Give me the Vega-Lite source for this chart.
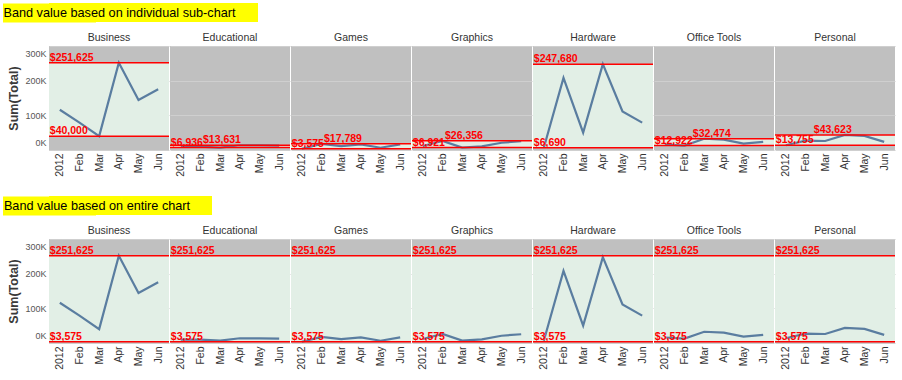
{
  "$schema": "https://vega.github.io/schema/vega-lite/v6.json",
  "padding": {"left": 3, "top": 3, "right": 0, "bottom": 0},
  "background": "white",
  "datasets": {
    "sales": [
      {"category": "Business", "month": "2012", "total": 116000},
      {"category": "Business", "month": "Feb", "total": 79000},
      {"category": "Business", "month": "Mar", "total": 40000},
      {"category": "Business", "month": "Apr", "total": 251625},
      {"category": "Business", "month": "May", "total": 144000},
      {"category": "Business", "month": "Jun", "total": 175000},
      {"category": "Educational", "month": "2012", "total": 9800},
      {"category": "Educational", "month": "Feb", "total": 9500},
      {"category": "Educational", "month": "Mar", "total": 6936},
      {"category": "Educational", "month": "Apr", "total": 13631},
      {"category": "Educational", "month": "May", "total": 13300},
      {"category": "Educational", "month": "Jun", "total": 12400},
      {"category": "Games", "month": "2012", "total": 3575},
      {"category": "Games", "month": "Feb", "total": 17789},
      {"category": "Games", "month": "Mar", "total": 11300},
      {"category": "Games", "month": "Apr", "total": 16000},
      {"category": "Games", "month": "May", "total": 6500},
      {"category": "Games", "month": "Jun", "total": 16200},
      {"category": "Graphics", "month": "2012", "total": 11700},
      {"category": "Graphics", "month": "Feb", "total": 26356},
      {"category": "Graphics", "month": "Mar", "total": 6921},
      {"category": "Graphics", "month": "Apr", "total": 10700},
      {"category": "Graphics", "month": "May", "total": 21000},
      {"category": "Graphics", "month": "Jun", "total": 25300},
      {"category": "Hardware", "month": "2012", "total": 6690},
      {"category": "Hardware", "month": "Feb", "total": 208000},
      {"category": "Hardware", "month": "Mar", "total": 50000},
      {"category": "Hardware", "month": "Apr", "total": 247680},
      {"category": "Hardware", "month": "May", "total": 111000},
      {"category": "Hardware", "month": "Jun", "total": 79000},
      {"category": "Office Tools", "month": "2012", "total": 15800},
      {"category": "Office Tools", "month": "Feb", "total": 12922},
      {"category": "Office Tools", "month": "Mar", "total": 32474},
      {"category": "Office Tools", "month": "Apr", "total": 30000},
      {"category": "Office Tools", "month": "May", "total": 18700},
      {"category": "Office Tools", "month": "Jun", "total": 23500},
      {"category": "Personal", "month": "2012", "total": 13755},
      {"category": "Personal", "month": "Feb", "total": 27000},
      {"category": "Personal", "month": "Mar", "total": 26000},
      {"category": "Personal", "month": "Apr", "total": 43623},
      {"category": "Personal", "month": "May", "total": 40600},
      {"category": "Personal", "month": "Jun", "total": 23400}
    ]
  },
  "spacing": 19,
  "vconcat": [
    {
      "spacing": 11,
      "vconcat": [
        {
          "width": 209, "height": 19,
          "view": {"fill": "#FFFF00", "stroke": null},
          "data": {"values": [{"t": "Band value based on individual sub-chart"}]},
          "mark": {"type": "text", "dx": -34, "fontSize": 12.7, "font": "Liberation Sans", "color": "#000000"},
          "encoding": {
            "text": {"field": "t"},
            "y": {"datum": 0, "type": "quantitative", "scale": {"domain": [-1, 1]}, "axis": {"title": null, "labels": false, "ticks": false, "grid": false, "domainColor": "#FFFF00", "domainWidth": 93}}
          }
        },
        {
          "data": {"name": "sales"},
          "facet": {"column": {"field": "category", "title": null, "sort": ["Business", "Educational", "Games", "Graphics", "Hardware", "Office Tools", "Personal"]}},
          "spacing": 1,
          "bounds": "flush",
          "spec": {
            "width": 120, "height": 104,
            "resolve": {"axis": {"x": "independent"}},
            "layer": [
              {
                "transform": [{"aggregate": [{"op": "min", "field": "total", "as": "lo"}, {"op": "max", "field": "total", "as": "hi"}], "groupby": ["category"]}],
                "mark": {"type": "rect", "color": "#E2EFE6"},
                "encoding": {"y": {"field": "lo", "type": "quantitative", "title": "Sum(Total)"}, "y2": {"field": "hi"}}
              },
              {
                "mark": {"type": "line", "color": "#5A7DA0", "strokeWidth": 2.2},
                "encoding": {
                  "x": {"field": "month", "type": "ordinal", "sort": ["2012", "Feb", "Mar", "Apr", "May", "Jun"], "title": null, "scale": {"padding": 0.55}},
                  "y": {"field": "total", "type": "quantitative", "title": "Sum(Total)", "scale": {"domain": [0, 300000], "nice": false}}
                }
              },
              {
                "transform": [{"aggregate": [{"op": "min", "field": "total", "as": "lo"}, {"op": "max", "field": "total", "as": "hi"}], "groupby": ["category"]}],
                "layer": [
                  {"mark": {"type": "rule", "color": "#FF0000", "strokeWidth": 1.5}, "encoding": {"y": {"field": "lo", "type": "quantitative", "title": "Sum(Total)"}}},
                  {"mark": {"type": "rule", "color": "#FF0000", "strokeWidth": 1.5}, "encoding": {"y": {"field": "hi", "type": "quantitative", "title": "Sum(Total)"}}},
                  {"mark": {"type": "text", "align": "left", "baseline": "bottom", "dx": -10, "fontSize": 10.5, "fontWeight": "bold", "color": "#FF0000"},
                   "encoding": {"x": {"datum": "2012", "type": "ordinal", "title": null, "axis": {"orient": "top", "labels": false, "domain": false, "ticks": true, "tickSize": -4, "tickColor": "#999999"}}, "y": {"field": "lo", "type": "quantitative", "title": "Sum(Total)"}, "text": {"field": "lo", "type": "quantitative", "format": "$,.0f"}}},
                  {"mark": {"type": "text", "align": "left", "baseline": "bottom", "dx": {"expr": "datum.hi - datum.lo < 35000 ? length(format(datum.lo, '$,.0f')) * 5.84 - 12.9 : -10"}, "fontSize": 10.5, "fontWeight": "bold", "color": "#FF0000"},
                   "encoding": {"x": {"datum": "2012", "type": "ordinal", "title": null, "axis": {"orient": "top", "labels": false, "domain": false, "ticks": true, "tickSize": -4, "tickColor": "#999999"}}, "y": {"field": "hi", "type": "quantitative", "title": "Sum(Total)"}, "text": {"field": "hi", "type": "quantitative", "format": "$,.0f"}}}
                ]
              }
            ]
          }
        }
      ]
    },
    {
      "spacing": 11,
      "vconcat": [
        {
          "width": 163, "height": 19,
          "view": {"fill": "#FFFF00", "stroke": null},
          "data": {"values": [{"t": "Band value based on entire chart"}]},
          "mark": {"type": "text", "dx": -33.5, "fontSize": 12.7, "font": "Liberation Sans", "color": "#000000"},
          "encoding": {
            "text": {"field": "t"},
            "y": {"datum": 0, "type": "quantitative", "scale": {"domain": [-1, 1]}, "axis": {"title": null, "labels": false, "ticks": false, "grid": false, "domainColor": "#FFFF00", "domainWidth": 93}}
          }
        },
        {
          "data": {"name": "sales"},
          "transform": [{"joinaggregate": [{"op": "min", "field": "total", "as": "gmin"}, {"op": "max", "field": "total", "as": "gmax"}]}],
          "facet": {"column": {"field": "category", "title": null, "sort": ["Business", "Educational", "Games", "Graphics", "Hardware", "Office Tools", "Personal"]}},
          "spacing": 1,
          "bounds": "flush",
          "spec": {
            "width": 120, "height": 104,
            "resolve": {"axis": {"x": "independent"}},
            "layer": [
              {
                "transform": [{"aggregate": [{"op": "min", "field": "gmin", "as": "lo"}, {"op": "max", "field": "gmax", "as": "hi"}], "groupby": ["category"]}],
                "mark": {"type": "rect", "color": "#E2EFE6"},
                "encoding": {"y": {"field": "lo", "type": "quantitative", "title": "Sum(Total)"}, "y2": {"field": "hi"}}
              },
              {
                "mark": {"type": "line", "color": "#5A7DA0", "strokeWidth": 2.2},
                "encoding": {
                  "x": {"field": "month", "type": "ordinal", "sort": ["2012", "Feb", "Mar", "Apr", "May", "Jun"], "title": null, "scale": {"padding": 0.55}},
                  "y": {"field": "total", "type": "quantitative", "title": "Sum(Total)", "scale": {"domain": [0, 300000], "nice": false}}
                }
              },
              {
                "transform": [{"aggregate": [{"op": "min", "field": "gmin", "as": "lo"}, {"op": "max", "field": "gmax", "as": "hi"}], "groupby": ["category"]}],
                "layer": [
                  {"mark": {"type": "rule", "color": "#FF0000", "strokeWidth": 1.5}, "encoding": {"y": {"field": "lo", "type": "quantitative", "title": "Sum(Total)"}}},
                  {"mark": {"type": "rule", "color": "#FF0000", "strokeWidth": 1.5}, "encoding": {"y": {"field": "hi", "type": "quantitative", "title": "Sum(Total)"}}},
                  {"mark": {"type": "text", "align": "left", "baseline": "bottom", "dx": -10, "fontSize": 10.5, "fontWeight": "bold", "color": "#FF0000"},
                   "encoding": {"x": {"datum": "2012", "type": "ordinal", "title": null, "axis": {"orient": "top", "labels": false, "domain": false, "ticks": true, "tickSize": -4, "tickColor": "#999999"}}, "y": {"field": "lo", "type": "quantitative", "title": "Sum(Total)"}, "text": {"field": "lo", "type": "quantitative", "format": "$,.0f"}}},
                  {"mark": {"type": "text", "align": "left", "baseline": "bottom", "dx": {"expr": "datum.hi - datum.lo < 35000 ? length(format(datum.lo, '$,.0f')) * 5.84 - 12.9 : -10"}, "fontSize": 10.5, "fontWeight": "bold", "color": "#FF0000"},
                   "encoding": {"x": {"datum": "2012", "type": "ordinal", "title": null, "axis": {"orient": "top", "labels": false, "domain": false, "ticks": true, "tickSize": -4, "tickColor": "#999999"}}, "y": {"field": "hi", "type": "quantitative", "title": "Sum(Total)"}, "text": {"field": "hi", "type": "quantitative", "format": "$,.0f"}}}
                ]
              }
            ]
          }
        }
      ]
    }
  ],
  "config": {
    "font": "Liberation Sans",
    "view": {"stroke": null, "fill": "#C0C0C0"},
    "header": {"labelFontSize": 10.5, "labelColor": "#333333", "labelFont": "Liberation Sans", "labelPadding": 2},
    "axisX": {"labelAngle": -90, "labelFontSize": 10.5, "labelColor": "#333333", "ticks": true, "tickSize": -4, "tickColor": "#999999", "labelPadding": 7, "domain": false, "grid": false},
    "axisQuantitative": {"tickCount": 3, "labelOverlap": false, "labelBound": false},
    "axisY": {"labelExpr": "datum.value / 1000 + 'K'", "labelOverlap": false,
              "labelBaseline": {"condition": [{"test": "datum.value == 0", "value": "bottom"}, {"test": "datum.value == 300000", "value": "top"}], "value": "middle"},
              "labelOffset": {"condition": [{"test": "datum.value == 0", "value": -3}, {"test": "datum.value == 300000", "value": 3}], "value": 0},
              "labelFontSize": 9, "labelColor": "#555555", "ticks": false, "labelPadding": 3, "minExtent": 25,
              "titleFontSize": 12.5, "titleFontWeight": "bold", "titleColor": "#3a3a3a", "titlePadding": 4,
              "grid": true, "gridColor": "#CFCFCF", "domainColor": "#AAAAAA", "zindex": 1}
  }
}
